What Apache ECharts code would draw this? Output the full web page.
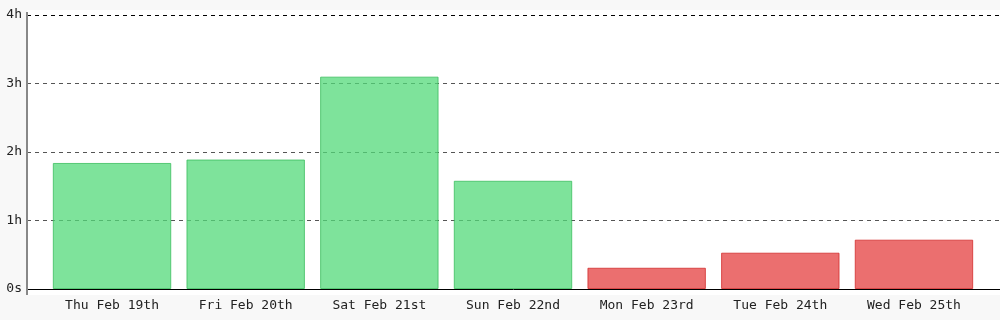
<!DOCTYPE html>
<html><head><meta charset="utf-8">
<style>html,body{margin:0;padding:0;background:#f8f8f8;}#c{width:1000px;height:320px;}</style>
<script src="https://cdn.jsdelivr.net/npm/echarts@6/dist/echarts.min.js"></script>
</head><body><div id="c"></div>
<script>
const categories = ['Thu Feb 19th','Fri Feb 20th','Sat Feb 21st','Sun Feb 22nd','Mon Feb 23rd','Tue Feb 24th','Wed Feb 25th'];
const hours = [1.84, 1.89, 3.10, 1.58, 0.31, 0.53, 0.72];
const goodFlags = [true, true, true, true, false, false, false];
const yTickLabels = ['0s','1h','2h','3h','4h'];

const chart = echarts.init(document.getElementById('c'), null, {renderer:'canvas'});
const font = 'DejaVu Sans Mono';
const green = {color:'rgba(83,218,122,0.75)', borderColor:'rgba(60,190,95,0.8)'};
const red = {color:'rgba(228,63,63,0.75)', borderColor:'rgba(210,45,45,0.8)'};
chart.setOption({
  backgroundColor:'#f8f8f8',
  animation:false,
  graphic:[
    {type:'rect', z:-10, silent:true, shape:{x:27,y:10,width:973,height:285}, style:{fill:'#ffffff'}},
    {type:'line', z:50, silent:true, shape:{x1:27,y1:12,x2:27,y2:295}, style:{stroke:'#888',lineWidth:2}}
  ],
  grid:[
    {left:27, right:0, top:15, bottom:31},
    {left:45.2, right:19.2, top:15, bottom:31}
  ],
  xAxis:[
    {gridIndex:0, type:'value', min:0, max:1, axisLabel:{show:false}, axisTick:{show:false}, splitLine:{show:false},
     axisLine:{show:true, onZero:false, lineStyle:{color:'#000', width:1}}},
    {gridIndex:1, type:'category', data:categories, axisLine:{show:false}, axisTick:{show:false},
     axisLabel:{fontFamily:font, fontSize:13, color:'#222', margin:10}}
  ],
  yAxis:[
    {gridIndex:0, type:'value', min:0, max:4, interval:1, axisLine:{show:false}, axisTick:{show:false},
     axisLabel:{fontFamily:font, fontSize:13, color:'#222', margin:5, formatter:(v)=>yTickLabels[Math.round(v)]},
     splitLine:{show:true, lineStyle:{color:['#000','#555','#555','#555','#000'], type:[4,4], width:1}}},
    {gridIndex:1, type:'value', min:0, max:4, interval:1, show:false, splitLine:{show:false}}
  ],
  series:[{
    type:'bar', xAxisIndex:1, yAxisIndex:1, barWidth:'88.6%', z:5,
    data: hours.map((v,i)=>({value:v, itemStyle:Object.assign({borderWidth:1}, goodFlags[i]?green:red)}))
  }]
});
</script></body></html>
